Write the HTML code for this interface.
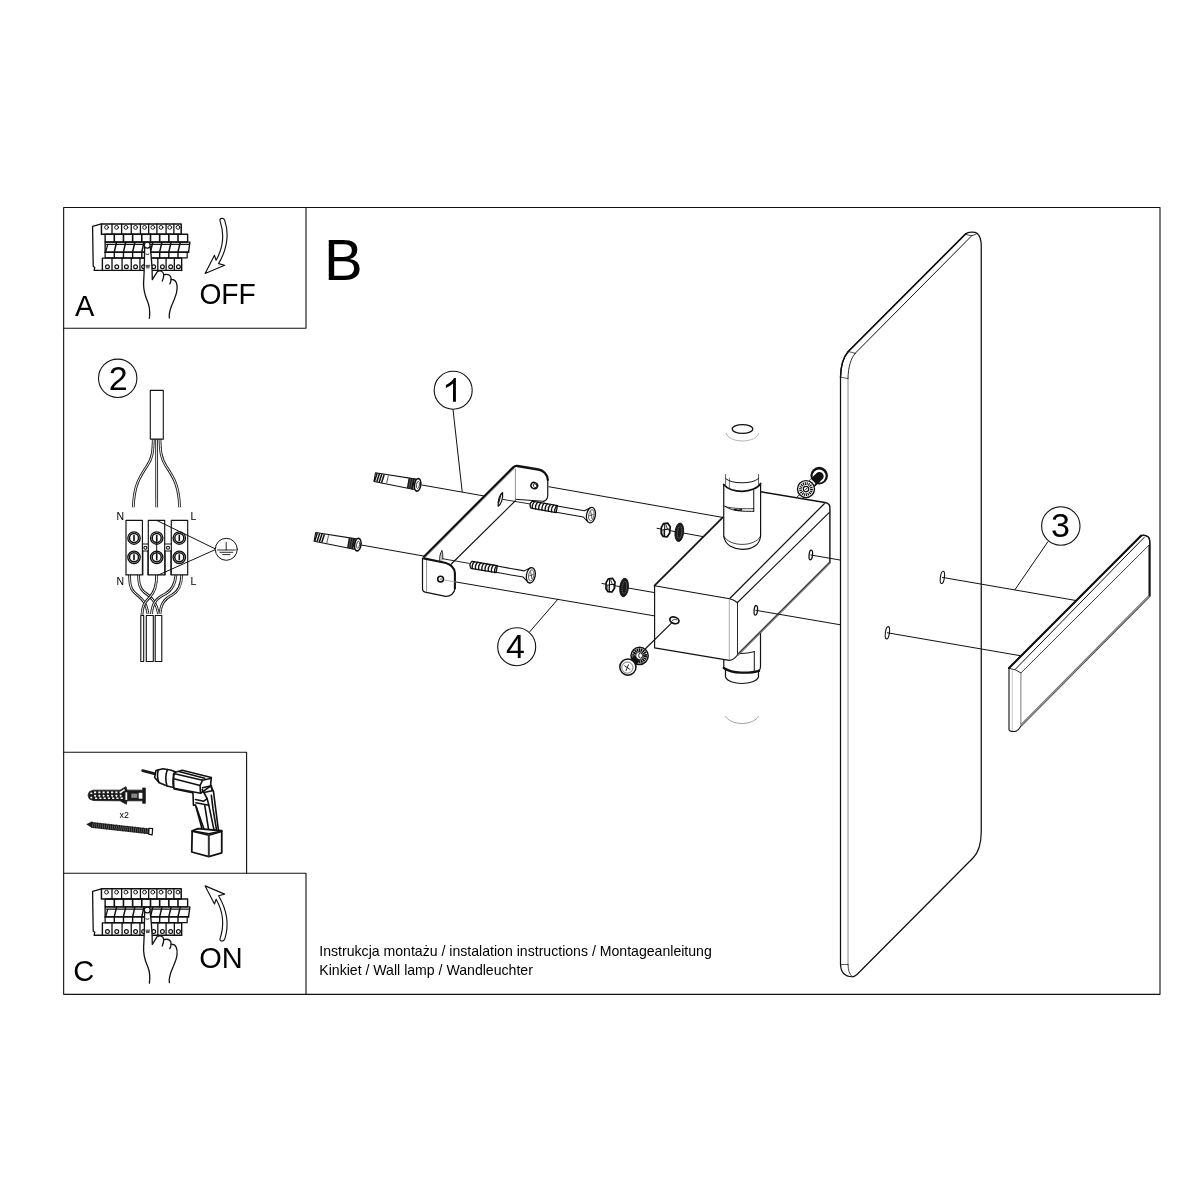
<!DOCTYPE html>
<html><head><meta charset="utf-8">
<style>
html,body{margin:0;padding:0;background:#fff;}
body{width:1200px;height:1200px;overflow:hidden;position:relative;font-family:"Liberation Sans",sans-serif;}
svg{position:absolute;left:0;top:0;filter:grayscale(1);}
text{font-family:"Liberation Sans",sans-serif;fill:#000;}
.k{stroke:#111;fill:none;stroke-width:1.2;stroke-linejoin:round;stroke-linecap:round}
.t{stroke:#222;fill:none;stroke-width:0.9;stroke-linejoin:round;stroke-linecap:round}
.w{stroke:#111;fill:#fff;stroke-width:1.2;stroke-linejoin:round;stroke-linecap:round}
</style></head><body>
<svg width="1200" height="1200" viewBox="0 0 1200 1200">
<!-- FRAME -->
<g id="frame" class="k" stroke-linecap="square">
<rect x="63.65" y="207.5" width="1096.35" height="786.85" style="stroke-width:1.1"/>
<path d="M306 207.5V328.3H63.65" style="stroke-width:1.1"/>
<path d="M63.65 752.2H246.6V873.3" style="stroke-width:1.1"/>
<path d="M63.65 873.3H306V994.35" style="stroke-width:1.1"/>
</g>
<!-- TEXT -->
<g id="labels">
<text x="324" y="279.5" font-size="58">B</text>
<text x="75" y="315.8" font-size="29">A</text>
<text x="199.4" y="304" font-size="29" textLength="56.4" lengthAdjust="spacingAndGlyphs">OFF</text>
<text x="73.2" y="981" font-size="29">C</text>
<text x="199.3" y="968.1" font-size="29">ON</text>
<text x="319.3" y="955.8" font-size="14.1">Instrukcja montażu / instalation instructions / Montageanleitung</text>
<text x="319.3" y="974.7" font-size="14.1">Kinkiet / Wall lamp / Wandleuchter</text>
</g>
<!-- brk -->
<g id="brk">
<path class="k" style="stroke-width:1.3" d="M101.46 223.98 L92.57 226.46 L93.21 266.15 L94.77 267.43 L94.13 270.46 L181.67 270.46"/>
<path class="k" style="stroke-width:1.5" d="M101.46 223.98 L181.21 223.98 L181.21 234.25 L101.46 234.25Z"/>
<path class="k" style="stroke-width:1.3" d="M112.00 223.98 L112.00 234.25"/>
<path class="k" style="stroke-width:1.3" d="M121.63 223.98 L121.63 234.25"/>
<path class="k" style="stroke-width:1.3" d="M131.25 223.98 L131.25 234.25"/>
<path class="k" style="stroke-width:1.3" d="M140.42 223.98 L140.42 234.25"/>
<path class="k" style="stroke-width:1.3" d="M148.67 223.98 L148.67 234.25"/>
<path class="k" style="stroke-width:1.3" d="M156.92 223.98 L156.92 234.25"/>
<path class="k" style="stroke-width:1.3" d="M166.08 223.98 L166.08 234.25"/>
<path class="k" style="stroke-width:1.3" d="M173.88 223.98 L173.88 234.25"/>
<circle class="k" style="stroke-width:0.95" cx="106.50" cy="227.38" r="1.9"/>
<circle class="k" style="stroke-width:0.95" cx="116.58" cy="227.38" r="1.9"/>
<circle class="k" style="stroke-width:0.95" cx="125.93" cy="227.38" r="1.9"/>
<circle class="k" style="stroke-width:0.95" cx="135.56" cy="227.38" r="1.9"/>
<circle class="k" style="stroke-width:0.95" cx="144.54" cy="227.38" r="1.9"/>
<circle class="k" style="stroke-width:0.95" cx="152.79" cy="227.38" r="1.9"/>
<circle class="k" style="stroke-width:0.95" cx="161.04" cy="227.38" r="1.9"/>
<circle class="k" style="stroke-width:0.95" cx="169.75" cy="227.38" r="1.9"/>
<circle class="k" style="stroke-width:0.95" cx="178.00" cy="227.38" r="1.9"/>
<path class="k" style="stroke-width:1.4" d="M105.13 234.25 L187.63 234.25 L187.63 242.04 L105.13 242.04Z"/>
<path class="k" style="stroke-width:1.6" d="M114.29 234.25 L114.29 242.04"/>
<path class="k" style="stroke-width:1.6" d="M123.46 234.25 L123.46 242.04"/>
<path class="k" style="stroke-width:1.6" d="M132.63 234.25 L132.63 242.04"/>
<path class="k" style="stroke-width:1.6" d="M141.79 234.25 L141.79 242.04"/>
<path class="k" style="stroke-width:1.6" d="M150.50 234.25 L150.50 242.04"/>
<path class="k" style="stroke-width:1.6" d="M159.67 234.25 L159.67 242.04"/>
<path class="k" style="stroke-width:1.6" d="M168.83 234.25 L168.83 242.04"/>
<path class="k" style="stroke-width:1.6" d="M178.00 234.25 L178.00 242.04"/>
<path class="k" style="stroke-width:1.35" d="M105.13 252.13 L105.13 242.13 L189.92 242.13 L188.54 252.13"/>
<path class="k" style="stroke-width:1.25" d="M106.50 244.43 L189.55 244.43"/>
<path class="k" style="stroke-width:1.7" d="M105.13 252.17 L188.54 252.17"/>
<path class="k" style="stroke-width:1.5" d="M116.49 242.50 L114.29 251.85"/>
<path class="k" style="stroke-width:1.5" d="M125.66 242.50 L123.46 251.85"/>
<path class="k" style="stroke-width:1.5" d="M134.83 242.50 L132.63 251.85"/>
<path class="k" style="stroke-width:1.5" d="M143.99 242.50 L141.79 251.85"/>
<path class="k" style="stroke-width:1.5" d="M152.70 242.50 L150.50 251.85"/>
<path class="k" style="stroke-width:1.5" d="M161.87 242.50 L159.67 251.85"/>
<path class="k" style="stroke-width:1.5" d="M171.03 242.50 L168.83 251.85"/>
<path class="k" style="stroke-width:1.5" d="M180.20 242.50 L178.00 251.85"/>
<path class="k" style="stroke-width:1.3" d="M107.60 244.88 L105.77 251.67"/>
<path class="k" style="stroke-width:1.2" d="M105.13 252.58 L105.13 257.90 L187.17 257.90 L187.17 252.58"/>
<path class="k" style="stroke-width:1.4" d="M114.29 252.58 L114.29 257.90"/>
<path class="k" style="stroke-width:1.4" d="M123.46 252.58 L123.46 257.90"/>
<path class="k" style="stroke-width:1.4" d="M132.63 252.58 L132.63 257.90"/>
<path class="k" style="stroke-width:1.4" d="M141.79 252.58 L141.79 257.90"/>
<path class="k" style="stroke-width:1.4" d="M150.50 252.58 L150.50 257.90"/>
<path class="k" style="stroke-width:1.4" d="M159.67 252.58 L159.67 257.90"/>
<path class="k" style="stroke-width:1.4" d="M168.83 252.58 L168.83 257.90"/>
<path class="k" style="stroke-width:1.4" d="M178.00 252.58 L178.00 257.90"/>
<path class="k" style="stroke-width:1.4" d="M102.38 270.46 L102.38 258.08 L181.67 258.08 L181.67 270.46"/>
<path class="k" style="stroke-width:1.3" d="M112.00 258.08 L112.00 270.46"/>
<path class="k" style="stroke-width:1.3" d="M122.08 258.08 L122.08 270.46"/>
<path class="k" style="stroke-width:1.3" d="M131.25 258.08 L131.25 270.46"/>
<path class="k" style="stroke-width:1.3" d="M139.96 258.08 L139.96 270.46"/>
<path class="k" style="stroke-width:1.3" d="M148.67 258.08 L148.67 270.46"/>
<path class="k" style="stroke-width:1.3" d="M157.83 258.08 L157.83 270.46"/>
<path class="k" style="stroke-width:1.3" d="M166.08 258.08 L166.08 270.46"/>
<path class="k" style="stroke-width:1.3" d="M174.33 258.08 L174.33 270.46"/>
<circle class="k" style="stroke-width:1.2" cx="107.42" cy="266.79" r="1.9"/>
<circle class="k" style="stroke-width:1.2" cx="116.77" cy="266.79" r="1.9"/>
<circle class="k" style="stroke-width:1.2" cx="126.39" cy="266.79" r="1.9"/>
<circle class="k" style="stroke-width:1.2" cx="135.56" cy="266.79" r="1.9"/>
<circle class="k" style="stroke-width:1.2" cx="143.63" cy="266.79" r="1.9"/>
<circle class="k" style="stroke-width:1.2" cx="153.71" cy="266.79" r="1.9"/>
<circle class="k" style="stroke-width:1.2" cx="162.42" cy="266.79" r="1.9"/>
<circle class="k" style="stroke-width:1.2" cx="170.67" cy="266.79" r="1.9"/>
<circle class="k" style="stroke-width:1.2" cx="178.46" cy="266.79" r="1.9"/>
</g>
<g id="hand">
<path fill="#fff" stroke="none" d="M144.70 246.25 C144.40 257.50 144.40 271.00 143.65 281.50 C142.90 292.00 146.13 298.00 148.00 302.50 C149.65 307.00 150.10 313.00 149.35 318.25 L169.38 317.88 C168.25 311.50 172.00 304.75 174.25 299.50 C176.88 293.50 178.00 286.75 176.13 282.25 C175.00 280.00 173.13 279.25 171.10 279.40 C171.40 275.88 169.00 273.63 163.75 274.75 C163.38 271.00 160.00 270.25 157.38 271.53 L152.28 279.63 L152.13 271.00 C151.75 261.25 151.00 253.75 150.10 246.25 Z"/>
<path class="k" style="stroke-width:1.3" d="M144.70 246.25 C144.40 257.50 144.40 271.00 143.65 281.50 C142.90 292.00 146.13 298.00 148.00 302.50 C149.65 307.00 150.10 313.00 149.35 318.25 M169.38 317.88 C168.25 311.50 172.00 304.75 174.25 299.50 C176.88 293.50 178.00 286.75 176.13 282.25 C175.00 280.00 173.13 279.25 171.10 279.40 C171.40 275.88 169.00 273.63 163.75 274.75 C163.38 271.00 160.00 270.25 157.38 271.53 L152.28 279.63 L152.13 271.00 C151.75 261.25 151.00 253.75 150.10 246.25"/>
<path class="k" style="stroke-width:1.3" d="M163.75 274.75 C163.75 277.00 163.00 279.25 162.25 281.13"/>
<path class="k" style="stroke-width:1.3" d="M171.10 279.40 C171.10 281.13 170.50 282.63 169.75 283.90"/>
<circle class="w" style="stroke-width:1.2" cx="147.25" cy="245.13" r="2.9"/>
<path class="k" style="stroke-width:0.9" d="M145.98 254.13 Q147.40 254.95 148.90 254.13"/>
<path class="k" style="stroke-width:0.8" d="M145.90 265.38 L149.65 265.38 M146.13 266.65 L149.35 266.65 M146.35 267.85 L149.13 267.85"/>
</g>
<path id="arrow" class="w" style="stroke-width:1.15" d="M220.06 220.81 C224.36 233.83 223.91 246.66 216.12 260.22 L214.47 255.36 L205.12 273.51 L224.64 265.26 L218.59 263.61 C228.49 246.66 228.95 232.91 224.64 220.08 C223.45 217.33 219.14 218.06 220.06 220.81 Z"/>
<use href="#brk" y="664.8"/><use href="#hand" y="664.8"/><use href="#arrow" transform="translate(0,1159.4) scale(1,-1)"/>

<!-- wire -->
<circle class="k" style="stroke-width:1.1" cx="117.7" cy="378.3" r="19.2"/>
<text x="108.7" y="389.9" font-size="34">2</text>
<path d="M153.3 439 C153 452 152.5 458 147 466 C139 478 134 486 133.3 507.3" fill="none" stroke="#222" stroke-width="2.8" stroke-linecap="butt"/><path d="M153.3 439 C153 452 152.5 458 147 466 C139 478 134 486 133.3 507.3" fill="none" stroke="#f4f4f4" stroke-width="1.0" stroke-linecap="butt"/>
<path d="M156.6 439 L156.7 507.3" fill="none" stroke="#222" stroke-width="2.8" stroke-linecap="butt"/><path d="M156.6 439 L156.7 507.3" fill="none" stroke="#f4f4f4" stroke-width="1.0" stroke-linecap="butt"/>
<path d="M160 439 C160.3 452 161 458 166 466 C174 478 179 486 179.6 507.3" fill="none" stroke="#222" stroke-width="2.8" stroke-linecap="butt"/><path d="M160 439 C160.3 452 161 458 166 466 C174 478 179 486 179.6 507.3" fill="none" stroke="#f4f4f4" stroke-width="1.0" stroke-linecap="butt"/>
<rect class="w" style="stroke-width:1.1" x="150.3" y="390.4" width="13" height="48.7"/>
<path d="M129.5 575 C129.8 583 130 588 134 592 C140 598 146 600 148 614" fill="none" stroke="#222" stroke-width="2.8" stroke-linecap="butt"/><path d="M129.5 575 C129.8 583 130 588 134 592 C140 598 146 600 148 614" fill="none" stroke="#f4f4f4" stroke-width="1.0" stroke-linecap="butt"/>
<path d="M138.5 575 C138.8 583 139.5 588 144 592 C151 597 156 601 158.5 614" fill="none" stroke="#222" stroke-width="2.8" stroke-linecap="butt"/><path d="M138.5 575 C138.8 583 139.5 588 144 592 C151 597 156 601 158.5 614" fill="none" stroke="#f4f4f4" stroke-width="1.0" stroke-linecap="butt"/>
<path d="M156.5 575 C157 586 154 593 149 598 C144 603 142.3 607 142 615" fill="none" stroke="#222" stroke-width="2.8" stroke-linecap="butt"/><path d="M156.5 575 C157 586 154 593 149 598 C144 603 142.3 607 142 615" fill="none" stroke="#f4f4f4" stroke-width="1.0" stroke-linecap="butt"/>
<path d="M176 575 C175 584 172 590 166 593.5 C157 598 152.5 602 151.5 614" fill="none" stroke="#222" stroke-width="2.8" stroke-linecap="butt"/><path d="M176 575 C175 584 172 590 166 593.5 C157 598 152.5 602 151.5 614" fill="none" stroke="#f4f4f4" stroke-width="1.0" stroke-linecap="butt"/>
<path d="M181.7 575 C181.5 585 179 591 172 595 C164 599 161 604 160 614" fill="none" stroke="#222" stroke-width="2.8" stroke-linecap="butt"/><path d="M181.7 575 C181.5 585 179 591 172 595 C164 599 161 604 160 614" fill="none" stroke="#f4f4f4" stroke-width="1.0" stroke-linecap="butt"/>
<rect class="w" style="stroke-width:1.1" x="140.8" y="615.5" width="2.9" height="46"/>
<rect class="w" style="stroke-width:1.1" x="146.3" y="615.5" width="7" height="46"/>
<rect class="w" style="stroke-width:1.1" x="155.2" y="615.5" width="6.6" height="46"/>
<rect class="w" style="stroke-width:1.15" x="126.0" y="520.4" width="16.4" height="54.5"/>
<rect class="w" style="stroke-width:1.15" x="148.3" y="520.4" width="16.4" height="54.5"/>
<rect class="w" style="stroke-width:1.15" x="171.3" y="520.4" width="16.4" height="54.5"/>
<path class="k" style="stroke-width:1.0" d="M142.4 544H148.3 M142.4 551H148.3"/>
<circle class="k" style="stroke-width:1.15" cx="145.35" cy="547.7" r="1.5"/>
<path class="k" style="stroke-width:0.8" d="M143.0 551V574.9M147.7 551V574.9"/>
<path class="k" style="stroke-width:1.0" d="M164.7 544H171.3 M164.7 551H171.3"/>
<circle class="k" style="stroke-width:1.15" cx="168.00" cy="547.7" r="1.5"/>
<path class="k" style="stroke-width:0.8" d="M165.3 551V574.9M170.7 551V574.9"/>
<circle class="k" style="stroke-width:1.35" cx="134.0" cy="538.0" r="6.2"/>
<circle class="k" style="stroke-width:1.5" cx="134.0" cy="538.0" r="4.5"/>
<path class="k" style="stroke-width:1.6;stroke-linecap:butt" d="M134.0 535.0V541.0"/>
<circle class="k" style="stroke-width:1.35" cx="134.0" cy="557.3" r="6.2"/>
<circle class="k" style="stroke-width:1.5" cx="134.0" cy="557.3" r="4.5"/>
<path class="k" style="stroke-width:1.6;stroke-linecap:butt" d="M134.0 554.3V560.3"/>
<circle class="k" style="stroke-width:1.35" cx="156.7" cy="538.0" r="6.2"/>
<circle class="k" style="stroke-width:1.5" cx="156.7" cy="538.0" r="4.5"/>
<path class="k" style="stroke-width:1.6;stroke-linecap:butt" d="M156.7 535.0V541.0"/>
<circle class="k" style="stroke-width:1.35" cx="156.7" cy="557.3" r="6.2"/>
<circle class="k" style="stroke-width:1.5" cx="156.7" cy="557.3" r="4.5"/>
<path class="k" style="stroke-width:1.6;stroke-linecap:butt" d="M156.7 554.3V560.3"/>
<circle class="k" style="stroke-width:1.35" cx="179.3" cy="538.0" r="6.2"/>
<circle class="k" style="stroke-width:1.5" cx="179.3" cy="538.0" r="4.5"/>
<path class="k" style="stroke-width:1.6;stroke-linecap:butt" d="M179.3 535.0V541.0"/>
<circle class="k" style="stroke-width:1.35" cx="179.3" cy="557.3" r="6.2"/>
<circle class="k" style="stroke-width:1.5" cx="179.3" cy="557.3" r="4.5"/>
<path class="k" style="stroke-width:1.6;stroke-linecap:butt" d="M179.3 554.3V560.3"/>
<path class="k" style="stroke-width:1.0" d="M156.7 538V557.3"/>
<path class="k" style="stroke-width:1.0" d="M156.7 520.4L215.3 548.9M158.7 574.9L215.3 549.6"/>
<circle class="w" style="stroke-width:1.0" cx="226.3" cy="549.3" r="11"/>
<path class="k" style="stroke-width:0.9" d="M226.2 542.5V550M217.5 550H235.3M220 552.3H232.7M222.7 554.6H230"/>
<text x="116.6" y="519.9" font-size="10.5">N</text>
<text x="190.6" y="519.9" font-size="10.5">L</text>
<text x="116.6" y="585.3" font-size="10.5">N</text>
<text x="190.6" y="585.3" font-size="10.5">L</text>

<!-- tools -->
<path d="M88.00 795.33 L89.33 791.73 93.33 790.13 120.00 790.13 126.00 786.67 126.93 790.13 142.67 790.13 142.67 788.00 145.33 788.00 145.33 803.33 142.67 803.33 142.67 800.80 126.93 800.80 126.40 804.27 120.00 800.80 93.33 800.53 89.33 798.93 Z" fill="#1a1a1a" stroke="#1a1a1a" stroke-width="0.8" stroke-linejoin="round"/>
<path d="M94.00 792.40 L96.13 792.40 M95.07 798.27 L97.20 798.27 M94.27 795.33 L95.87 796.27 M98.27 792.40 L100.40 792.40 M99.33 798.27 L101.47 798.27 M98.53 795.33 L100.13 796.27 M102.53 792.40 L104.67 792.40 M103.60 798.27 L105.73 798.27 M102.80 795.33 L104.40 796.27 M106.80 792.40 L108.93 792.40 M107.87 798.27 L110.00 798.27 M107.07 795.33 L108.67 796.27 M111.07 792.40 L113.20 792.40 M112.13 798.27 L114.27 798.27 M111.33 795.33 L112.93 796.27 M115.33 792.40 L117.47 792.40 M116.40 798.27 L118.53 798.27 M115.60 795.33 L117.20 796.27 M119.60 792.40 L121.73 792.40 M120.67 798.27 L122.80 798.27 M119.87 795.33 L121.47 796.27" stroke="#fff" stroke-width="1.7" fill="none"/>
<path d="M90.40 793.33 L92.27 793.33" stroke="#fff" stroke-width="1.6" fill="none"/>
<path d="M90.40 797.60 L92.27 797.60" stroke="#fff" stroke-width="1.6" fill="none"/>
<path d="M121.07 792.00 L124.67 789.60" stroke="#fff" stroke-width="1.5" fill="none"/>
<rect x="138.67" y="792.80" width="3.73" height="5.87" fill="#fff"/>
<rect x="131.33" y="793.60" width="6.00" height="4.27" fill="#888"/>
<rect x="125.47" y="792.27" width="1.73" height="7.73" fill="#fff"/>
<text x="119.5" y="817.6" font-size="8.8">x2</text>
<path d="M91.73 824.93 L149.33 831.33" stroke="#1a1a1a" stroke-width="6.0" stroke-dasharray="1.3 0.3" fill="none"/>
<path d="M86.27 824.13 L92.27 821.20 L92.00 828.00 Z" fill="#1a1a1a"/>
<path d="M91.73 824.93 L149.33 831.33" stroke="#1a1a1a" stroke-width="4.7" fill="none"/><path d="M92.67 825.07 L148.67 831.27" stroke="#999" stroke-width="3.6" stroke-dasharray="0.45 1.5" fill="none"/>
<path class="w" style="stroke-width:1.2" d="M149.07 828.27 L152.67 828.53 L152.13 834.93 L148.67 834.13 Z"/>
<path d="M142.58 770.58 L154.25 773.67" stroke="#1a1a1a" stroke-width="2.7" stroke-linecap="round" fill="none"/>
<path class="k" style="stroke-width:1.6" d="M154.67 777.42 L155.92 770.58 L163.00 768.67 L171.33 770.33 L175.08 771.83 M154.67 777.42 L159.25 782.83 L167.17 786.00 L173.42 787.42"/>
<path class="k" style="stroke-width:1.6" d="M158.25 770.00 Q156.50 776.17 158.83 782.33"/>
<path class="k" style="stroke-width:1.6" d="M167.33 769.50 Q164.50 777.83 167.00 785.92"/>
<path class="k" style="stroke-width:1.6" d="M175.08 771.83 Q172.00 779.08 173.42 787.42"/>
<path class="k" style="stroke-width:1.6" d="M174.67 772.42 L182.17 770.33 L211.33 777.42 L210.50 786.17 L200.50 793.25 L173.83 788.25 L173.42 774.50 Z"/>
<path class="k" style="stroke-width:1.6" d="M174.67 773.67 L202.58 780.17 L211.33 778.25"/>
<path class="k" style="stroke-width:1.6" d="M179.67 771.83 L204.67 778.25"/>
<path class="k" style="stroke-width:1.6" d="M173.83 778.67 L200.08 785.50 L202.58 780.17"/>
<path class="k" style="stroke-width:1.6" d="M200.08 785.50 L200.50 793.25"/>
<path class="k" style="stroke-width:1.6" d="M174.25 789.08 L192.58 792.83"/>
<path class="k" style="stroke-width:1.6" d="M210.50 786.17 L213.42 791.17 L218.42 830.33 L215.50 832.00"/>
<path class="k" style="stroke-width:1.6" d="M202.58 787.83 L211.33 785.75 L212.17 790.75"/>
<path class="k" style="stroke-width:1.6" d="M203.83 792.42 L212.17 790.75"/>
<path class="k" style="stroke-width:1.6" d="M211.33 795.33 L213.00 808.67 L216.75 831.17"/>
<path class="k" style="stroke-width:1.6" d="M193.00 793.25 L193.42 805.33 L195.50 804.92 L201.75 827.83 L198.00 829.92"/>
<path class="k" style="stroke-width:1.6" d="M195.50 799.50 L203.83 801.17 L207.17 798.67 L202.17 789.50"/>
<path class="k" style="stroke-width:1.6" d="M195.92 802.83 L208.83 805.33 L207.17 798.67"/>
<path class="k" style="stroke-width:1.6" d="M204.67 804.92 L208.83 831.17"/>
<path class="k" style="stroke-width:1.6" d="M208.83 805.33 L214.25 831.17"/>
<path class="k" style="stroke-width:1.6" d="M196.33 807.00 L203.83 828.67"/>
<path class="w" style="stroke-width:1.8" d="M192.17 830.75 L198.00 828.67 L221.75 830.75 L221.75 852.83 L208.83 856.58 L191.75 852.00 Z"/>
<path class="k" style="stroke-width:1.6" d="M192.17 831.17 L208.83 835.33 L221.75 831.58"/>
<path d="M208.83 835.33 L208.83 856.58" stroke="#333" stroke-width="2" fill="none"/>
<path class="k" style="stroke-width:1.6" d="M194.67 831.17 L208.83 833.67 L220.50 831.17"/>

<!-- plate -->
<g id="plate">
<path d="M840.5 964.5V377.25C840.7 366 843.5 357 848.25 351.5L965.75 233.75C968 231.6 975 231.6 977 233.25C980.5 236 981.25 241 981.25 246V831.5C981.2 845 978 853 973 858L857 974.5C855 976.4 853.5 976.9 852 976.75C845 976.5 840.8 972 840.5 964.5Z" fill="#fff" stroke="#111" stroke-width="1.25" stroke-linejoin="round"/>
<path d="M848.25 351.5L965.75 233.75" class="k" style="stroke-width:1.55"/>
<path d="M840.5 377.25C840.7 366 843.5 357 848.25 351.5" class="k" style="stroke-width:1.4"/>
<path d="M855.25 353.25L972 235.5" class="k" style="stroke-width:1.0"/>
<path d="M848 378.5C848.2 367 850.8 358.5 855.25 353.25" class="k" style="stroke-width:0.9"/>
<path d="M848 378.5V964.5" stroke="#888" stroke-width="1.0" fill="none"/>
<path d="M848 964.5C848.1 970 849.5 974.5 852 976.5" class="k" style="stroke-width:0.8"/>
<path d="M848.25 351.5L855.25 353.25M840.5 377.25L848 378.5M840.5 964.5H848" class="k" style="stroke-width:0.7"/>
<path d="M965.75 234.3Q969 235.6 972 235.5Q975.5 235 977 233.5" class="k" style="stroke-width:0.8"/>
<!-- plate holes -->
<ellipse cx="942.4" cy="577.4" rx="2" ry="6.2" transform="rotate(8 942.4 577.4)" class="k" style="stroke-width:1.1"/>
<ellipse cx="887.4" cy="632.8" rx="2" ry="6.2" transform="rotate(8 887.4 632.8)" class="k" style="stroke-width:1.1"/>
</g>

<!-- bar -->
<g id="bar">
<!-- lines from plate holes to bar -->
<path d="M942.4 577.4L1075.4 600.4M887.4 632.8L1020.3 655.7" class="k" style="stroke-width:1.0"/>
<path d="M1009 668.3L1141.25 535.8C1143 534.9 1147.5 535.3 1149.2 538.3C1149.8 540 1149.8 542 1149.8 544.2V596.25L1021.25 725.8C1019 729.5 1017 731.4 1014.6 731.5C1011 731.6 1009.2 731 1009 729.6Z" fill="#fff" stroke="#111" stroke-width="1.1" stroke-linejoin="round"/>
<path d="M1009 667.9L1141.25 535.6" class="k" style="stroke-width:2.1"/>
<path d="M1141.25 535.6C1144 534.8 1148 535.5 1149.3 538.5C1149.8 540 1149.8 542 1149.8 544.2V596" class="k" style="stroke-width:1.4"/>
<path d="M1015.2 669.4L1144.4 537.2" class="k" style="stroke-width:1.0"/>
<path d="M1021 672.9L1148.75 545.4" class="k" style="stroke-width:0.8"/>
<path d="M1148.75 545.4V596.5" class="k" style="stroke-width:0.7"/>
<path d="M1009 668.3Q1016 669 1021 672.9" class="k" style="stroke-width:0.9"/>
<path d="M1020.9 673.3V725.8" stroke="#777" stroke-width="1" fill="none"/>
<path d="M1012.3 670V731" stroke="#bbb" stroke-width="0.8" fill="none"/>
<path d="M1021.1 725.2L1149.2 596" stroke="#666" stroke-width="2.2" fill="none"/>
<path d="M1021.1 725.2L1149.2 596" stroke="#ccc" stroke-width="0.6" fill="none"/>
</g>

<!-- box -->
<g id="lowertube">
<path d="M723.8 640V668C726 671 733 672.8 741 672.6C750 672.4 757 671.5 759.5 670.5Q760.5 669 760.5 667V630Z" fill="#fff" stroke="none"/>
<path d="M725.5 669V677C727 681 734 683.5 742 683.5C750 683.5 757 681 758.5 677V670" class="w" style="stroke-width:1.2"/>
<path d="M723.8 655V668M760.5 632V666.5Q760.4 669.5 759 670.8" class="k" style="stroke-width:1.2"/>
<path d="M723.8 668C728 670.8 734 672.4 741 672.6C749 672.8 756 671.8 759 670.8" class="k" style="stroke-width:2.4"/>
<path d="M754.3 651.7V672M740 653.6Q748 653.4 754.3 651.7" class="k" style="stroke-width:1.0"/>
<path d="M725.5 716C727 720 734 723.5 742 723.5C750 723.5 757 720 758.5 716" stroke="#999" stroke-width="0.9" fill="none"/>
</g>
<g id="box">
<path d="M654.5 585.6L722.8 517.3L749 490L760.8 491.7L824.9 502.5Q829.6 503.3 829.9 507.2V562.5L737.5 655Q733.5 660.2 729.2 660.4L654.6 647.9Z" fill="#fff" stroke="none"/>
<!-- top-left thick edge -->
<path d="M654.5 585.6L722.8 517.3" class="k" style="stroke-width:1.7"/>
<!-- top front edge + corner -->
<path d="M654.5 585.7L729.6 598.75Q734.2 599.8 737.5 602.7" class="k" style="stroke-width:1.15"/>
<!-- back edge -->
<path d="M760.6 491.7L824.9 502.5Q829.6 503.3 829.9 507.2V562.5" class="k" style="stroke-width:1.4"/>
<!-- right diagonals -->
<path d="M730 598.3L824.3 503.7" class="k" style="stroke-width:1.25"/>
<path d="M737.5 602.5L829.4 512.3" class="k" style="stroke-width:1.1"/>
<!-- front face -->
<path d="M654.6 585.6V647.9L729.2 660.4Q733.5 660.2 737.5 655" class="k" style="stroke-width:1.15"/>
<path d="M729.3 599.2V660.4" stroke="#999" stroke-width="0.8" fill="none"/>
<path d="M737.5 602.7V654.6" class="k" style="stroke-width:0.9"/>
<!-- bottom diagonal double -->
<path d="M737.5 654.9L829.9 562.6" stroke="#333" stroke-width="2.1" fill="none"/>
<path d="M738 654.9L829.9 563" stroke="#ddd" stroke-width="0.5" fill="none"/>
<!-- holes -->
<ellipse cx="755.8" cy="610.3" rx="1.7" ry="4.8" transform="rotate(6 755.8 610.3)" class="k" style="stroke-width:1.3"/>
<ellipse cx="810.8" cy="555" rx="1.7" ry="4.8" transform="rotate(6 810.8 555)" class="k" style="stroke-width:1.3"/>
<ellipse cx="674.4" cy="620.3" rx="4.7" ry="3.2" transform="rotate(18 674.4 620.3)" class="k" style="stroke-width:1.7"/>
<path d="M672 620.5Q674 618.5 677 619.8" class="k" style="stroke-width:0.8"/>
<!-- lines from side holes to plate -->
<path d="M755.8 610.3L840.5 624.8M810.8 555L840.5 560.1" class="k" style="stroke-width:1.0"/>
</g>
<g id="uppertube">
<!-- sleeve -->
<path d="M723.75 485V536.25C724.5 541 727 544 730 546C734 548.3 738 549.4 742.25 549.4C747 549.4 751.5 548.3 755 546C758 544 760 541 760.6 536.25V483.5L758.5 479V473H725.6V480Z" fill="#fff" stroke="none"/>
<path d="M723.75 484.5V536.25C724.5 541 727 544 730 546C734 548.3 738 549.4 742.25 549.4C747 549.4 751.5 548.3 755 546C758 544 760 541 760.6 536.25V483.5" class="k" style="stroke-width:1.2"/>
<path d="M723.75 536.25C727 541.5 734 544.4 742.25 544.4C750.5 544.4 757.5 541.5 760.6 536.25" class="k" style="stroke-width:0.8"/>
<!-- top rim -->
<path d="M723.75 484.5C727 488.5 734 491.3 742.25 491.3C750.5 491.3 758 488 760.6 483.5" class="k" style="stroke-width:1.7"/>
<!-- inner tube -->
<path d="M725.6 474V485.5M758.5 474V485" stroke="#555" stroke-width="0.9" fill="none"/>
<path d="M729.4 478V488.5" stroke="#555" stroke-width="0.8" fill="none"/>
<path d="M725.6 478.6C729 481.6 735 482.8 742 482.8C749 482.8 755 481.6 758.5 478.6" class="k" style="stroke-width:1.0"/>
<!-- slot -->
<path d="M753.75 490V511.25" class="k" style="stroke-width:1.0"/>
<path d="M725 506.25C729 509.5 736 510.8 742 511.1C747 511.4 751 511.4 753.75 511.25" class="k" style="stroke-width:1.0"/>
<path d="M725 506.6C732 508.6 745 509 753.75 508.6" class="k" style="stroke-width:0.8"/>
<path d="M734.5 509.5Q738 510.8 741.5 509.8" class="k" style="stroke-width:1.6"/>
<!-- floating top -->
<ellipse cx="742.5" cy="429" rx="10.3" ry="4.4" class="k" style="stroke-width:1.2"/>
<path d="M726.25 433C727 437.5 734 441 742.5 441C751 441 758 437.5 758.75 433" stroke="#aaa" stroke-width="0.9" fill="none"/>
</g>

<!-- bracket -->
<g id="bracket">
<!-- centerlines behind bracket -->
<path d="M421.9 485L484.7 496.1M361.8 545.1L423.5 556" class="k" style="stroke-width:1.0"/>
<!-- long face -->
<path d="M424 556.9L513.3 467.5L515.4 468.7V500.75L450.8 564.5L445 562.75L423.7 558.7Z" fill="#fff" stroke="none"/>
<path d="M423.6 557.3L513.3 467.5" class="k" style="stroke-width:2.6;stroke-linecap:butt"/>
<path d="M424.6 557.6L514.2 467.9" stroke="#aaa" stroke-width="0.5" fill="none"/>
<path d="M450.8 564.5L515.4 500.75" class="k" style="stroke-width:1.1"/>
<!-- back tab -->
<path d="M513.3 467.5Q515 465.6 517.4 466L538.4 469.5C543.5 470.3 547.5 474.5 547.75 479.75V495.5C547.5 499 545.8 500.7 543.7 501.3L515.4 499.3V468.7Z" fill="#fff" stroke="none"/>
<path d="M513.3 467.5Q515 465.6 517.4 466L538.4 469.5C543.5 470.3 547.5 474.5 547.75 479.75" class="k" style="stroke-width:2.3"/>
<path d="M547.75 479.75V495.5C547.5 499 545.8 500.7 543.7 501.3" class="k" style="stroke-width:1.2"/>
<path d="M515.7 499.3L543.7 501.3" class="k" style="stroke-width:1.0"/>
<path d="M515.4 468.7V500.5" stroke="#777" stroke-width="0.8" fill="none"/>
<ellipse cx="534.3" cy="485.6" rx="3.4" ry="3" transform="rotate(25 534.3 485.6)" class="k" style="stroke-width:1.5"/>
<ellipse cx="535" cy="485.6" rx="1.6" ry="2.1" transform="rotate(-30 535 485.6)" class="k" style="stroke-width:0.8"/>
<!-- hole in long face -->
<path d="M502.6 492.5C500 494 497.6 500 498.2 506.2C501 504.5 503.2 499 502.6 492.5Z" fill="#fff" stroke="#111" stroke-width="1.2" stroke-linejoin="round"/>
<path d="M502.3 493C499.8 495 498 500 498.4 505.6C499.6 503 500.4 497 502.3 493Z" fill="#111"/>
<!-- small slot near front -->
<path d="M441.9 550.8C440.2 553 439.4 557 439.8 561M441.9 550.8C442.8 553 442.9 556 442.7 559" class="k" style="stroke-width:1.0"/>
<path d="M441.8 553V561.4" stroke="#888" stroke-width="0.8" fill="none"/>
<!-- front tab -->
<path d="M423.1 557.5L445 562.75C450 563.8 454.6 568 454.9 572.7V588.4C454.6 593 450.5 596.6 445.6 596.3L425.2 592.2Q422.6 591.5 422.5 589Z" fill="#fff" stroke="none"/>
<path d="M423.7 558.4L445 562.75C450 563.8 454.6 568 454.9 572.7V588.4" class="k" style="stroke-width:2.1"/>
<path d="M454.9 588.4C454.6 593 450.5 596.6 445.6 596.3L425.2 592.2Q422.6 591.5 422.5 589V558" class="k" style="stroke-width:1.2"/>
<path d="M426.6 560.1V591.8" stroke="#777" stroke-width="0.8" fill="none"/>
<circle cx="440.6" cy="579.1" r="2.9" class="k" style="stroke-width:1.6"/>
<circle cx="441.2" cy="579.3" r="1.3" fill="#aaa"/>
<!-- centerlines in front -->
<path d="M502.8 499.4L529.7 503.9M442.9 558.8L469.3 563.4" class="k" style="stroke-width:0.9"/>
<path d="M444.4 580L456 582" stroke="#999" stroke-width="0.8" fill="none"/>
<path d="M456 582L654.5 615.9" class="k" style="stroke-width:1.0"/>
<path d="M548.9 486.75L722.5 517.4" class="k" style="stroke-width:1.0"/>
</g>

<!-- hw -->
<g id="anchor">
<path class="w" style="stroke-width:1.1" d="M375.46 472.77 L415.98 479.09 L414.14 489.53 L373.94 481.43 Z"/>
<path d="M377.12 473.16 L374.45 481.42" stroke="#111" stroke-width="1.5" fill="none"/>
<path d="M379.48 473.58 L376.81 481.84" stroke="#111" stroke-width="1.5" fill="none"/>
<path d="M381.85 473.99 L379.17 482.25" stroke="#111" stroke-width="1.5" fill="none"/>
<path d="M384.21 474.41 L381.54 482.67" stroke="#111" stroke-width="1.5" fill="none"/>
<path d="M388.39 475.45 L386.61 483.26" stroke="#333" stroke-width="0.8" fill="none"/>
<path d="M408.56 477.98 L415.07 478.52 L413.09 489.75 L406.83 487.83 Z" fill="#1a1a1a"/>
<path d="M410.44 478.82 L408.83 487.98 M412.46 478.87 L410.77 488.52" stroke="#888" stroke-width="0.5" fill="none"/>
<ellipse cx="417.61" cy="484.85" rx="3.1" ry="6.3" transform="rotate(8 417.61 484.85)" fill="#fff" stroke="#111" stroke-width="1.6"/>
<ellipse cx="417.91" cy="484.85" rx="1.5" ry="3.6" transform="rotate(8 417.61 484.85)" fill="none" stroke="#333" stroke-width="0.8"/>
</g>
<use href="#anchor" x="-59.8" y="59.8"/>
<g id="wscrew">
<path class="w" style="stroke-width:1.05" d="M555.84 505.75 L584.40 510.78 L590.53 507.70 L588.00 522.07 L583.31 516.99 L554.75 511.96 Z"/>
<path class="w" style="stroke-width:1.35" d="M532.28 501.20 L557.39 505.62 L556.16 512.61 L531.05 508.19 Q528.52 504.09 532.28 501.20 Z"/>
<path class="k" style="stroke-width:1.35" d="M534.54 501.60 Q531.57 504.63 532.52 508.45"/>
<path class="k" style="stroke-width:1.35" d="M537.74 502.16 Q534.77 505.19 535.72 509.02"/>
<path class="k" style="stroke-width:1.35" d="M540.94 502.73 Q537.97 505.76 538.92 509.58"/>
<path class="k" style="stroke-width:1.35" d="M544.14 503.29 Q541.17 506.32 542.13 510.14"/>
<path class="k" style="stroke-width:1.35" d="M547.34 503.85 Q544.37 506.88 545.33 510.71"/>
<path class="k" style="stroke-width:1.35" d="M550.55 504.42 Q547.58 507.45 548.53 511.27"/>
<path class="k" style="stroke-width:1.35" d="M553.75 504.98 Q550.78 508.01 551.73 511.83"/>
<path class="k" style="stroke-width:1.35" d="M556.95 505.54 Q553.98 508.57 554.93 512.40"/>
<ellipse cx="590.94" cy="515.18" rx="4.4" ry="7.8" transform="rotate(9 590.94 515.18)" fill="#fff" stroke="#111" stroke-width="1.3"/>
<ellipse cx="591.34" cy="515.18" rx="2.6" ry="5.6" transform="rotate(9 590.94 515.18)" fill="none" stroke="#444" stroke-width="0.8"/>
<path d="M590.64 511.18L592.14 519.18M589.34 515.78L593.54 514.38" stroke="#333" stroke-width="0.8" fill="none"/>
</g>
<use href="#wscrew" x="-60.1" y="60.1"/>
<path d="M657 528.3L702.5 536.5M602 583.5L654.5 592.6" class="k" style="stroke-width:1.0"/>
<g id="nutw">
<path class="w" style="stroke-width:1.7" d="M661.30 527.50 L663.50 523.60 667.80 523.20 670.20 526.80 669.70 533.00 667.20 536.80 663.00 536.40 661.20 533.50 Z"/>
<path class="k" style="stroke-width:1.1" d="M664.80 523.80 L664.50 536.50 M662.20 530.00 L664.80 529.60 M664.80 529.60 L669.00 529.00 L669.70 533.00"/>
<path class="k" style="stroke-width:0.8" d="M666.00 525.00 L667.50 529.00 M663.00 531.00 L663.20 536.00"/>
<ellipse cx="679.3" cy="532.3" rx="4.3" ry="9.3" transform="rotate(6 679.3 532.3)" fill="#1a1a1a" stroke="#111" stroke-width="0.9"/>
<ellipse cx="679.6" cy="532.3" rx="2.2" ry="6.2" transform="rotate(6 679.6 532.3)" fill="none" stroke="#777" stroke-width="0.8" stroke-dasharray="1.2 0.8"/>
</g>
<use href="#nutw" x="-55.2" y="55.2"/>
<g id="mscrewA">
<path d="M797.3 496.9L800 494.2" class="k" style="stroke-width:1.0"/>
<circle cx="819.2" cy="475.6" r="8.8" fill="#111"/><circle cx="819.1" cy="476.1" r="6.5" fill="#fff"/>
<path d="M819.4 476.2L812.6 483" stroke="#111" stroke-width="8.6" stroke-linecap="round" fill="none"/>
<path d="M809.6 480.6L814 485.4L815.4 483.2L811.2 479Z" fill="#f2f2f2"/>
<circle cx="806" cy="489.1" r="8.5" fill="#fff" stroke="#111" stroke-width="1.4"/>
<circle cx="806" cy="489.1" r="5.5" fill="none" stroke="#111" stroke-width="2.8" stroke-dasharray="1.1 0.75"/>
<circle cx="806" cy="489.1" r="2.7" fill="#fff" stroke="#111" stroke-width="1.2"/>
<path d="M805 490.2L807.2 488" stroke="#111" stroke-width="0.9"/>
</g>
<g id="mscrewB">
<path d="M671.7 622.9L645.4 648.75" class="k" style="stroke-width:1.1"/>
<circle cx="639.6" cy="655.8" r="8.6" fill="#fff" stroke="#111" stroke-width="1.5"/>
<circle cx="639.6" cy="655.8" r="5.4" fill="none" stroke="#111" stroke-width="4.2" stroke-dasharray="1.4 0.45"/>
<ellipse cx="640.6" cy="655.6" rx="1.9" ry="2.6" fill="#fff" stroke="#111" stroke-width="0.9"/>
<path d="M637 658.4L631 664" stroke="#111" stroke-width="7.5" stroke-linecap="butt" fill="none"/>
<circle cx="627.9" cy="667.1" r="8.1" fill="#fff" stroke="#111" stroke-width="1.5"/>
<circle cx="627.4" cy="667.6" r="5.6" fill="none" stroke="#555" stroke-width="0.8"/>
<path d="M624.3 665.6L630.3 669.6M628.6 664.4L625.8 671" stroke="#111" stroke-width="0.9" fill="none"/>
</g>

<!-- callouts -->
<g id="callouts">
<circle cx="453.2" cy="390.3" r="19" class="k" style="stroke-width:1.1"/>
<path d="M455.9 401.7H453V383.4C451.2 385.1 448.4 386.9 445.9 387.9V385.1C449.6 383.3 452.7 380.6 454 378.1H455.9Z" fill="#000"/>
<path d="M453 409.4L462.2 491.8" class="k" style="stroke-width:1.0"/>
<circle cx="1060.8" cy="526" r="19.2" class="k" style="stroke-width:1.1"/>
<text x="1051" y="537.2" font-size="34">3</text>
<path d="M1047.9 541.7L1015 589.6" class="k" style="stroke-width:1.0"/>
<circle cx="516.7" cy="646.7" r="19" class="k" style="stroke-width:1.1"/>
<text x="506.1" y="657.6" font-size="34">4</text>
<path d="M529.8 631.7L557.9 599.2" class="k" style="stroke-width:1.0"/>
</g>


</svg>
</body></html>
